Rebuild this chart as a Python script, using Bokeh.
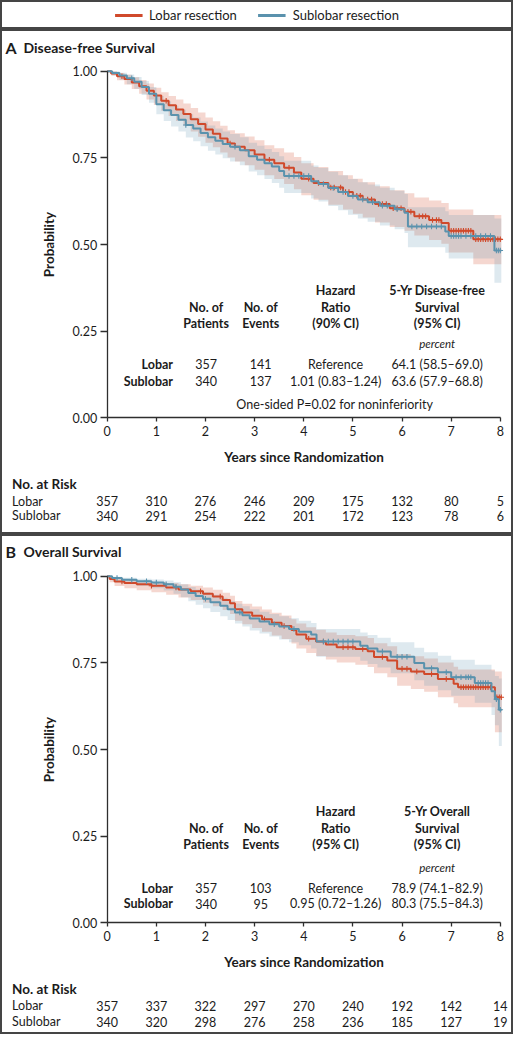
import numpy as np
from bokeh.plotting import figure
from bokeh.layouts import column
from bokeh.models import Range1d, LinearAxis, FixedTicker, NumeralTickFormatter, Legend
from bokeh.core.properties import value
from bokeh.embed import file_html
from bokeh.resources import INLINE

# ------------------------------------------------------------------ data
years_ticks = [0, 1, 2, 3, 4, 5, 6, 7, 8]
prob_ticks = [0.0, 0.25, 0.50, 0.75, 1.00]
group_labels = ["Lobar", "Sublobar"]
legend_labels = ["Lobar resection", "Sublobar resection"]

# Panel A: disease-free survival (step times, survival, 95% CI)
dfs_lobar_t = [0, 0.08, 0.2, 0.35, 0.5, 0.65, 0.8, 0.95, 1.1, 1.25, 1.4, 1.55, 1.7, 1.85, 2.0, 2.15, 2.3, 2.45,
               2.6, 2.8, 3.0, 3.2, 3.4, 3.6, 3.8, 3.95, 4.2, 4.5, 4.8, 5.0, 5.2, 5.45, 5.75, 6.05, 6.25, 6.55,
               6.8, 6.95, 7.45]
dfs_lobar_s = [1.0, 0.994, 0.986, 0.978, 0.968, 0.957, 0.944, 0.93, 0.915, 0.902, 0.89, 0.877, 0.862, 0.848,
               0.832, 0.82, 0.806, 0.792, 0.782, 0.772, 0.76, 0.745, 0.735, 0.722, 0.708, 0.69, 0.678, 0.665,
               0.652, 0.641, 0.63, 0.617, 0.605, 0.595, 0.582, 0.571, 0.562, 0.54, 0.515]
dfs_lobar_lo = [1.0, 0.988, 0.974, 0.962, 0.949, 0.935, 0.919, 0.903, 0.886, 0.871, 0.857, 0.843, 0.826, 0.811,
                0.794, 0.781, 0.766, 0.751, 0.740, 0.729, 0.716, 0.700, 0.689, 0.675, 0.660, 0.642, 0.629, 0.615,
                0.601, 0.589, 0.578, 0.564, 0.551, 0.540, 0.526, 0.513, 0.502, 0.477, 0.443]
dfs_lobar_hi = [1.0, 1.0, 0.995, 0.990, 0.983, 0.975, 0.965, 0.953, 0.940, 0.929, 0.919, 0.907, 0.894, 0.881,
                0.867, 0.856, 0.843, 0.830, 0.821, 0.812, 0.801, 0.787, 0.778, 0.766, 0.753, 0.735, 0.724, 0.712,
                0.700, 0.690, 0.680, 0.668, 0.657, 0.648, 0.636, 0.627, 0.620, 0.601, 0.585]
dfs_lobar_end = 8.02
dfs_lobar_censor = [0.3, 1.2, 2.5, 3.3, 3.7, 4.1, 4.3, 4.55, 4.62, 4.75, 4.85, 4.92, 5.08, 5.15, 5.3, 5.38, 5.52,
                    5.6, 5.68, 5.82, 5.9, 5.98, 6.12, 6.18, 6.35, 6.42, 6.48, 6.62, 6.7, 6.75, 7.0, 7.05, 7.1,
                    7.15, 7.2, 7.25, 7.3, 7.35, 7.4, 7.5, 7.55, 7.6, 7.65, 7.7, 7.75, 7.8, 7.85, 7.9, 7.95, 8.0]

dfs_sub_t = [0, 0.1, 0.25, 0.4, 0.55, 0.7, 0.85, 1.0, 1.15, 1.3, 1.45, 1.6, 1.75, 1.9, 2.05, 2.2, 2.35, 2.5,
             2.7, 2.88, 3.05, 3.2, 3.35, 3.5, 3.6, 4.15, 4.3, 4.5, 4.7, 4.9, 5.1, 5.3, 5.55, 5.85, 6.05, 6.12,
             6.88, 6.95, 7.88]
dfs_sub_s = [1.0, 0.995, 0.988, 0.98, 0.97, 0.955, 0.935, 0.905, 0.888, 0.874, 0.86, 0.845, 0.835, 0.822, 0.81,
             0.8, 0.79, 0.782, 0.772, 0.755, 0.745, 0.735, 0.725, 0.712, 0.698, 0.683, 0.675, 0.663, 0.652, 0.64,
             0.63, 0.622, 0.612, 0.602, 0.592, 0.552, 0.538, 0.525, 0.483]
dfs_sub_lo = [1.0, 0.988, 0.975, 0.963, 0.950, 0.932, 0.909, 0.876, 0.857, 0.841, 0.826, 0.809, 0.798, 0.784,
              0.771, 0.760, 0.749, 0.740, 0.729, 0.711, 0.700, 0.689, 0.678, 0.664, 0.649, 0.633, 0.624, 0.611,
              0.599, 0.586, 0.575, 0.566, 0.555, 0.544, 0.533, 0.492, 0.476, 0.460, 0.390]
dfs_sub_hi = [1.0, 1.0, 0.996, 0.991, 0.984, 0.972, 0.955, 0.929, 0.914, 0.901, 0.889, 0.876, 0.867, 0.855,
              0.844, 0.835, 0.826, 0.819, 0.810, 0.794, 0.785, 0.776, 0.767, 0.755, 0.742, 0.728, 0.721, 0.710,
              0.700, 0.689, 0.680, 0.673, 0.664, 0.655, 0.646, 0.608, 0.596, 0.585, 0.575]
dfs_sub_end = 8.02
dfs_sub_censor = [0.5, 1.6, 2.6, 3.7, 3.8, 3.9, 4.0, 4.1, 4.4, 4.6, 4.8, 5.0, 5.2, 5.4, 5.6, 5.7, 5.9, 6.2, 6.3,
                  6.4, 6.5, 6.6, 6.7, 6.8, 7.0, 7.05, 7.1, 7.15, 7.2, 7.3, 7.4, 7.5, 7.6, 7.7, 7.8, 7.92, 7.96, 8.0]

# Panel B: overall survival
os_lobar_t = [0, 0.05, 0.15, 0.35, 0.6, 0.9, 1.2, 1.45, 1.7, 1.95, 2.15, 2.35, 2.5, 2.6, 2.75, 2.95, 3.15, 3.35,
              3.55, 3.75, 3.85, 4.05, 4.25, 4.45, 4.67, 5.05, 5.3, 5.43, 5.7, 5.9, 6.18, 6.45, 6.73, 7.05, 7.14,
              7.89]
os_lobar_s = [1.0, 0.992, 0.985, 0.981, 0.977, 0.973, 0.968, 0.962, 0.957, 0.95, 0.942, 0.932, 0.922, 0.905,
              0.896, 0.886, 0.876, 0.866, 0.857, 0.845, 0.832, 0.82, 0.812, 0.803, 0.795, 0.79, 0.784, 0.767,
              0.757, 0.733, 0.725, 0.718, 0.704, 0.69, 0.68, 0.651]
os_lobar_lo = [1.0, 0.983, 0.972, 0.966, 0.960, 0.954, 0.947, 0.939, 0.932, 0.924, 0.914, 0.903, 0.891, 0.872,
               0.862, 0.851, 0.840, 0.829, 0.819, 0.806, 0.792, 0.779, 0.770, 0.760, 0.751, 0.745, 0.738, 0.720,
               0.709, 0.684, 0.675, 0.667, 0.651, 0.634, 0.622, 0.550]
os_lobar_hi = [1.0, 0.997, 0.993, 0.990, 0.987, 0.984, 0.981, 0.977, 0.973, 0.968, 0.961, 0.953, 0.944, 0.929,
               0.921, 0.913, 0.904, 0.895, 0.887, 0.876, 0.864, 0.853, 0.846, 0.838, 0.831, 0.827, 0.822, 0.807,
               0.798, 0.776, 0.769, 0.763, 0.751, 0.739, 0.731, 0.725]
os_lobar_end = 8.03
os_lobar_censor = [0.3, 0.9, 1.4, 1.9, 2.3, 3.2, 3.6, 4.1, 4.4, 4.8, 4.9, 5.0, 5.2, 5.6, 6.0, 6.1, 6.3, 6.6, 6.9,
                   7.2, 7.25, 7.3, 7.35, 7.4, 7.45, 7.5, 7.55, 7.6, 7.65, 7.7, 7.75, 7.8, 7.93, 7.98, 8.02]

os_sub_t = [0, 0.1, 0.3, 0.6, 0.9, 1.15, 1.35, 1.5, 1.65, 1.8, 1.95, 2.1, 2.3, 2.45, 2.6, 2.75, 2.9, 3.1, 3.3,
            3.5, 3.7, 3.9, 4.15, 4.26, 5.15, 5.3, 5.5, 5.77, 6.25, 6.45, 6.73, 7.0, 7.48, 7.82, 7.89, 7.97]
os_sub_s = [1.0, 0.995, 0.99, 0.986, 0.982, 0.977, 0.97, 0.962, 0.952, 0.943, 0.935, 0.925, 0.915, 0.905, 0.896,
            0.888, 0.878, 0.87, 0.862, 0.855, 0.848, 0.84, 0.832, 0.812, 0.8, 0.792, 0.783, 0.768, 0.75, 0.735,
            0.723, 0.709, 0.692, 0.668, 0.645, 0.615]
os_sub_lo = [1.0, 0.987, 0.979, 0.972, 0.966, 0.959, 0.950, 0.940, 0.928, 0.918, 0.908, 0.897, 0.885, 0.874,
             0.864, 0.855, 0.844, 0.835, 0.826, 0.818, 0.810, 0.801, 0.792, 0.768, 0.756, 0.747, 0.737, 0.720,
             0.700, 0.684, 0.671, 0.655, 0.635, 0.600, 0.570, 0.510]
os_sub_hi = [1.0, 0.999, 0.996, 0.993, 0.991, 0.988, 0.983, 0.977, 0.969, 0.962, 0.955, 0.947, 0.938, 0.929,
             0.921, 0.914, 0.905, 0.898, 0.891, 0.885, 0.879, 0.872, 0.865, 0.848, 0.838, 0.831, 0.823, 0.810,
             0.794, 0.781, 0.771, 0.759, 0.745, 0.728, 0.712, 0.705]
os_sub_end = 8.03
os_sub_censor = [0.2, 0.5, 0.8, 1.0, 1.2, 1.4, 2.0, 2.7, 3.4, 3.8, 4.4, 4.5, 4.6, 4.7, 4.8, 4.9, 5.0, 5.6, 5.9,
                 6.0, 6.1, 6.6, 6.9, 7.1, 7.2, 7.3, 7.35, 7.4, 7.55, 7.6, 7.65, 7.7, 7.75, 7.92, 8.0]

# Numbers at risk
dfs_risk_lobar = [357, 310, 276, 246, 209, 175, 132, 80, 5]
dfs_risk_sub = [340, 291, 254, 222, 201, 172, 123, 78, 6]
os_risk_lobar = [357, 337, 322, 297, 270, 240, 192, 142, 14]
os_risk_sub = [340, 320, 298, 276, 258, 236, 185, 127, 19]

# Inset tables
dfs_patients = ["357", "340"]
dfs_events = ["141", "137"]
dfs_hr = ["Reference", "1.01 (0.83\u20131.24)"]
dfs_5yr = ["64.1 (58.5\u201369.0)", "63.6 (57.9\u201368.8)"]
dfs_headers = [["", "", "Hazard", "5-Yr Disease-free"],
               ["No. of", "No. of", "Ratio", "Survival"],
               ["Patients", "Events", "(90% CI)", "(95% CI)"]]
dfs_note = "One-sided P=0.02 for noninferiority"

os_patients = ["357", "340"]
os_events = ["103", "95"]
os_hr = ["Reference", "0.95 (0.72\u20131.26)"]
os_5yr = ["78.9 (74.1\u201382.9)", "80.3 (75.5\u201384.3)"]
os_headers = [["", "", "Hazard", "5-Yr Overall"],
              ["No. of", "No. of", "Ratio", "Survival"],
              ["Patients", "Events", "(95% CI)", "(95% CI)"]]

# ------------------------------------------------------------------ style / layout
FONT = "Lato"
RED = "#d0492b"
BLUE = "#5a92ad"
TXT = "#1b1b1b"
AX = "#2e2e2e"
FRAME = "#454545"

W = 513
PX_T0 = 106.7          # canvas px of year 0
PXU = 49.14            # px per year
XMIN = -PX_T0 / PXU
XMAX = XMIN + W / PXU
Y0PX = 388.25          # canvas px of probability 0
PYU = 346.4            # px per probability unit


def cx(px):
    return XMIN + px / PXU


def up(px):
    return px / PYU


def text(p, xs, ys, texts, size="12.5px", style="normal", align="center", color=TXT):
    p.text(x=xs, y=ys, text=texts, text_font=value(FONT), text_font_size=size,
           text_font_style=style, text_align=align, text_baseline="middle", text_color=color)


def km(p, t, s, lo, hi, end, censor, color, band_alpha, draw="band"):
    x = list(t) + [end]
    if draw == "band":
        p.varea_step(x=x, y1=list(lo) + [lo[-1]], y2=list(hi) + [hi[-1]], step_mode="after",
                     fill_color=color, fill_alpha=band_alpha)
    else:
        p.step(x=x, y=list(s) + [s[-1]], mode="after", line_color=color, line_width=2)
        ta = np.array(t)
        idx = np.searchsorted(ta, np.array(censor), side="right") - 1
        p.scatter(x=censor, y=list(np.array(s)[idx]), marker="cross", size=5.5,
                  line_color=color, line_width=1.1)


def panel(h, letter, title, series, headers, hdr_up, patients, events, hr, fiveyr, pct_up, row_up,
          note_up, note, risk_rows, risk_down, title_up):
    p = figure(width=W, height=h, x_range=Range1d(XMIN, XMAX),
               y_range=Range1d(-(h - Y0PX) / PYU, Y0PX / PYU),
               x_axis_type=None, y_axis_type=None, toolbar_location=None, output_backend="svg",
               min_border=0, min_border_left=0, min_border_right=0, min_border_top=0, min_border_bottom=0)
    p.outline_line_color = FRAME
    p.outline_line_width = 3
    p.background_fill_color = "white"
    p.border_fill_color = "white"

    for args in series:
        km(p, *args, draw="band")
    for args in series:
        km(p, *args, draw="line")

    yax = LinearAxis(fixed_location=0, bounds=(0, 1), ticker=FixedTicker(ticks=prob_ticks),
                     formatter=NumeralTickFormatter(format="0.00"), axis_label="Probability")
    xax = LinearAxis(fixed_location=0, bounds=(0, 8), ticker=FixedTicker(ticks=years_ticks),
                     formatter=NumeralTickFormatter(format="0"), axis_label="Years since Randomization")
    for ax in (yax, xax):
        ax.axis_line_color = AX
        ax.axis_line_width = 1.3
        ax.major_tick_line_color = AX
        ax.major_tick_line_width = 1.3
        ax.major_tick_in = 0
        ax.minor_tick_line_color = None
        ax.major_label_text_font = FONT
        ax.major_label_text_font_size = "12.5px"
        ax.major_label_text_color = TXT
        ax.axis_label_text_font = FONT
        ax.axis_label_text_font_style = "bold"
        ax.axis_label_text_font_size = "13.5px"
        ax.axis_label_text_color = TXT
    yax.major_tick_out = 7
    yax.major_label_standoff = 3
    yax.axis_label_standoff = 13
    xax.major_tick_out = 4
    xax.major_label_standoff = 4
    xax.axis_label_standoff = 10
    p.add_layout(yax, "left")
    p.add_layout(xax, "below")

    # panel title
    text(p, [cx(5)], [up(title_up)], [letter], size="16px", style="bold", align="left")
    text(p, [cx(23)], [up(title_up)], [title], size="14px", style="bold", align="left")

    # inset table
    col_t = [2.013, 3.124, 4.648, 6.715]
    for line, yy in zip(headers, hdr_up):
        xs = [c for c, s in zip(col_t, line) if s]
        ts = [s for s in line if s]
        text(p, xs, [up(yy)] * len(xs), ts, size="12.5px", style="bold")
    text(p, [col_t[3]], [up(pct_up)], ["percent"], size="11.5px", style="italic")
    for i in range(2):
        text(p, [1.339], [up(row_up[i])], [group_labels[i]], size="12.5px", style="bold", align="right")
        text(p, col_t, [up(row_up[i])] * 4, [patients[i], events[i], hr[i], fiveyr[i]], size="12.5px")
    if note:
        text(p, [4.63], [up(note_up)], [note], size="12.5px")

    # numbers at risk
    text(p, [cx(11.6)], [-up(risk_down[0])], ["No. at Risk"], size="13.5px", style="bold", align="left")
    for i in range(2):
        text(p, [cx(11.6)], [-up(risk_down[i + 1])], [group_labels[i]], size="12.5px", align="left")
        text(p, years_ticks, [-up(risk_down[i + 1])] * len(years_ticks),
             [str(v) for v in risk_rows[i]], size="12.5px")
    return p


# legend strip (legend-only renderers sit outside the visible range)
lf = figure(width=W, height=29, x_range=Range1d(0, 1), y_range=Range1d(0, 1), x_axis_type=None,
            y_axis_type=None, toolbar_location=None, output_backend="svg", min_border=0,
            min_border_left=0, min_border_right=0, min_border_top=0, min_border_bottom=0)
lf.outline_line_color = FRAME
lf.outline_line_width = 3
r1 = lf.line(x=[-5, -4], y=[-5, -5], line_color=RED, line_width=3)
r2 = lf.line(x=[-5, -4], y=[-5, -5], line_color=BLUE, line_width=3)
leg = Legend(items=[(legend_labels[0], [r1]), (legend_labels[1], [r2])], location="center",
             orientation="horizontal", border_line_alpha=0, background_fill_alpha=0, glyph_width=28,
             glyph_height=16, label_height=16, label_standoff=7, spacing=21, padding=0, margin=0,
             label_text_font=FONT, label_text_font_size="13px", label_text_color=TXT)
lf.add_layout(leg)

pA = panel(505, "A", "Disease-free Survival",
           [(dfs_lobar_t, dfs_lobar_s, dfs_lobar_lo, dfs_lobar_hi, dfs_lobar_end, dfs_lobar_censor, RED, 0.22),
            (dfs_sub_t, dfs_sub_s, dfs_sub_lo, dfs_sub_hi, dfs_sub_end, dfs_sub_censor, BLUE, 0.2)],
           dfs_headers, [127.6, 110.7, 93.9], dfs_patients, dfs_events, dfs_hr, dfs_5yr,
           74.6, [53.3, 36.5], 13.5, dfs_note, [dfs_risk_lobar, dfs_risk_sub], [66.4, 83.3, 98.1], 370.0)

pB = panel(500, "B", "Overall Survival",
           [(os_lobar_t, os_lobar_s, os_lobar_lo, os_lobar_hi, os_lobar_end, os_lobar_censor, RED, 0.22),
            (os_sub_t, os_sub_s, os_sub_lo, os_sub_hi, os_sub_end, os_sub_censor, BLUE, 0.2)],
           os_headers, [111.1, 94.2, 78.4], os_patients, os_events, os_hr, os_5yr,
           55.4, [34.5, 19.2], 0, None, [os_risk_lobar, os_risk_sub], [66.1, 83.0, 98.9], 371.0)

layout = column(lf, pA, pB, spacing=0)
open("out.html", "w").write(file_html(layout, INLINE))
